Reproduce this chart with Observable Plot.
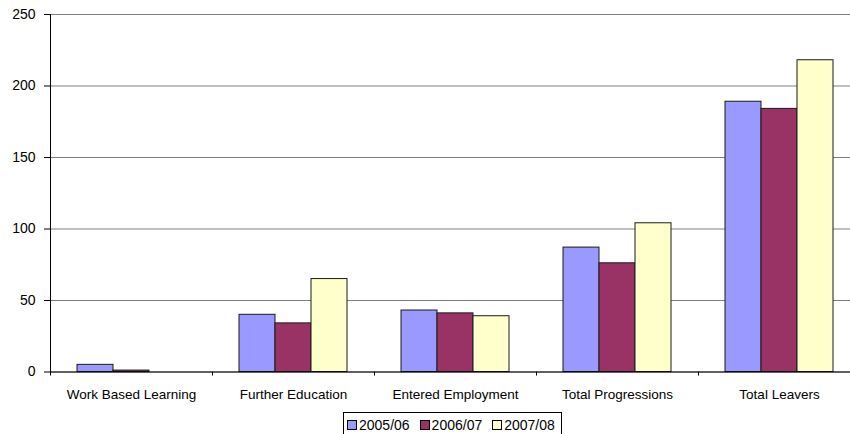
<!DOCTYPE html>
<html><head><meta charset="utf-8">
<script src="https://cdn.jsdelivr.net/npm/d3@7"></script>
<script src="https://cdn.jsdelivr.net/npm/@observablehq/plot@0.6"></script>
<style>
body{margin:0;background:#fff;overflow:hidden;font-family:"Liberation Sans",Arial,sans-serif}
#wrap{position:relative;width:850px;height:434px;overflow:hidden}
#legend{position:absolute;left:343px;top:412px;width:219px;height:26px;border:1px solid #000;box-sizing:border-box;display:flex;align-items:flex-start;font-size:14px;padding-left:3px;padding-top:4px;color:#000}
.item{display:flex;align-items:center;margin-right:10px;line-height:16px}
.sw{width:8px;height:8px;border:1px solid #000;margin-right:2px}
</style></head><body><div id="wrap"></div>
<script>
const categories = ["Work Based Learning", "Further Education", "Entered Employment", "Total Progressions", "Total Leavers"];
const series = ["2005/06", "2006/07", "2007/08"];
const v2005_06 = [5, 40, 43, 87, 189];
const v2006_07 = [1, 34, 41, 76, 184];
const v2007_08 = [0, 65, 39, 104, 218];
const yTicks = [0, 50, 100, 150, 200, 250];
const colors = ["#9999FF", "#993366", "#FFFFCC"];

const seriesValues = [v2005_06, v2006_07, v2007_08];
const data = categories.flatMap((c, i) => series.map((s, j) => ({category: c, series: s, value: seriesValues[j][i]})));

const plot = Plot.plot({
  width: 850, height: 410,
  marginLeft: 50, marginRight: -10, marginTop: 14, marginBottom: 38.5,
  style: {fontFamily: '"Liberation Sans", Arial, sans-serif', fontSize: "13.5px", color: "#000", background: "#fff"},
  fx: {domain: categories, padding: 0, label: null},
  x: {domain: series, paddingInner: 0, paddingOuter: 0.75, axis: null},
  y: {domain: [0, 250], label: null, axis: null},
  color: {domain: series, range: colors},
  marks: [
    Plot.gridY(yTicks, {stroke: "#808080", strokeOpacity: 1}),
    Plot.barY(data, {fx: "category", x: "series", y: "value", fill: "series", stroke: "#1a1a1a", strokeWidth: 1}),
    Plot.ruleY([0], {stroke: "#000"}),
    Plot.axisY(yTicks, {tickSize: 6, tickPadding: 9, fontSize: 14, label: null, stroke: "#000"}),
    Plot.axisFx({anchor: "bottom", tickSize: 0, tickPadding: 17, label: null}),
    Plot.axisFx({anchor: "bottom", tickSize: 4, text: null, dx: -81, label: null, stroke: "#000"}),
    Plot.frame({anchor: "left", facet: "super", stroke: "#000"})
  ]
});
const wrap = document.getElementById("wrap");
wrap.appendChild(plot);

const legend = d3.select(wrap).append("div").attr("id", "legend");
series.forEach((s, i) => {
  const it = legend.append("div").attr("class", "item");
  it.append("div").attr("class", "sw").style("background", colors[i]);
  it.append("span").text(s);
});
</script>
</body></html>
